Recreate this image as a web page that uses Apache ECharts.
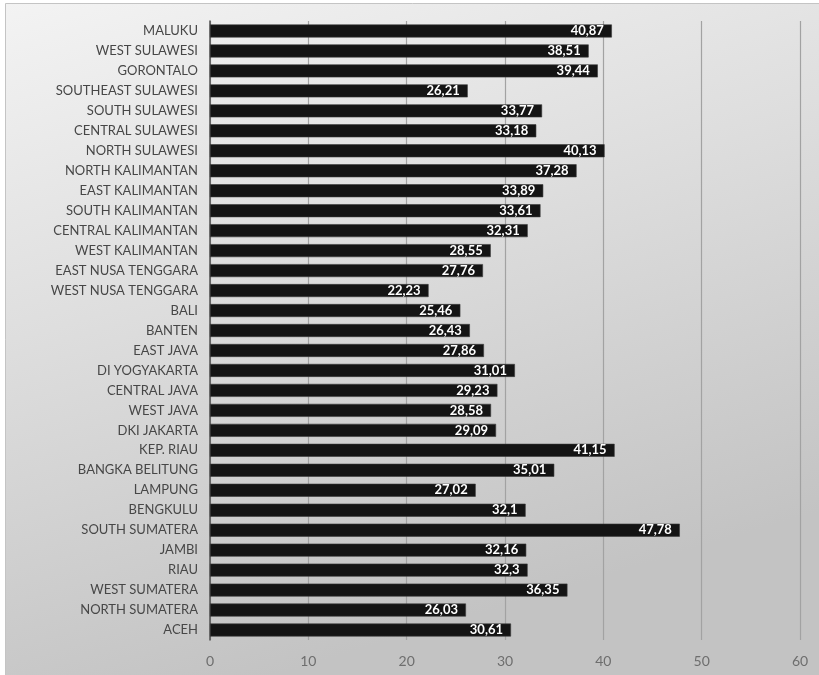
<!DOCTYPE html>
<html>
<head>
<meta charset="utf-8">
<script src="https://cdn.jsdelivr.net/npm/echarts@6/dist/echarts.min.js"></script>
<style>
  html, body { margin: 0; padding: 0; background: #ffffff; }
  #chart { width: 819px; height: 675px; }
</style>
</head>
<body>
<div id="chart"></div>
<script>
// Provinces, listed top to bottom as drawn
const provinces = [
  'MALUKU', 'WEST SULAWESI', 'GORONTALO', 'SOUTHEAST SULAWESI', 'SOUTH SULAWESI',
  'CENTRAL SULAWESI', 'NORTH SULAWESI', 'NORTH KALIMANTAN', 'EAST KALIMANTAN',
  'SOUTH KALIMANTAN', 'CENTRAL KALIMANTAN', 'WEST KALIMANTAN', 'EAST NUSA TENGGARA',
  'WEST NUSA TENGGARA', 'BALI', 'BANTEN', 'EAST JAVA', 'DI YOGYAKARTA', 'CENTRAL JAVA',
  'WEST JAVA', 'DKI JAKARTA', 'KEP. RIAU', 'BANGKA BELITUNG', 'LAMPUNG', 'BENGKULU',
  'SOUTH SUMATERA', 'JAMBI', 'RIAU', 'WEST SUMATERA', 'NORTH SUMATERA', 'ACEH'
];

const values = [
  40.87, 38.51, 39.44, 26.21, 33.77,
  33.18, 40.13, 37.28, 33.89,
  33.61, 32.31, 28.55, 27.76,
  22.23, 25.46, 26.43, 27.86, 31.01, 29.23,
  28.58, 29.09, 41.15, 35.01, 27.02, 32.1,
  47.78, 32.16, 32.3, 36.35, 26.03, 30.61
];

const axisMin = 0;
const axisMax = 60;
const axisStep = 10;

const chart = echarts.init(document.getElementById('chart'), null, { renderer: 'canvas' });

chart.setOption({
  animation: false,
  backgroundColor: '#ffffff',
  graphic: [{
    type: 'rect',
    z: -10,
    silent: true,
    shape: { x: 5.5, y: 3.5, width: 830, height: 690 },
    style: {
      fill: {
        type: 'linear', x: 0, y: 0, x2: 0.25, y2: 1,
        colorStops: [
          { offset: 0, color: '#f3f3f3' },
          { offset: 0.45, color: '#dedede' },
          { offset: 1, color: '#c3c3c3' }
        ]
      },
      stroke: '#c4c4c4',
      lineWidth: 1
    }
  }],
  grid: { left: 210, right: 19, top: 21, bottom: 35, containLabel: false },
  xAxis: {
    type: 'value',
    min: axisMin,
    max: axisMax,
    interval: axisStep,
    axisLine: { show: false },
    axisTick: { show: false },
    axisLabel: {
      color: '#6e6e6e',
      fontFamily: 'Lato',
      fontSize: 14,
      margin: 14
    },
    splitLine: { show: true, lineStyle: { color: '#a2a2a2', width: 1.2 } }
  },
  yAxis: {
    type: 'category',
    data: provinces,
    inverse: true,
    axisLine: { show: true, lineStyle: { color: '#505050', width: 1.5 } },
    axisTick: { show: false },
    axisLabel: {
      color: '#474747',
      fontFamily: 'Lato',
      fontSize: 13,
      margin: 12
    }
  },
  series: [{
    type: 'bar',
    data: values,
    barWidth: 13,
    itemStyle: { color: '#141414', borderColor: '#3a3a3a', borderWidth: 0.6 },
    label: {
      show: true,
      position: 'insideRight',
      distance: 8,
      color: '#ffffff',
      fontFamily: 'Lato',
      fontWeight: 'bold',
      fontSize: 13,
      formatter: p => String(p.value).replace('.', ',')
    }
  }]
});
</script>
</body>
</html>
